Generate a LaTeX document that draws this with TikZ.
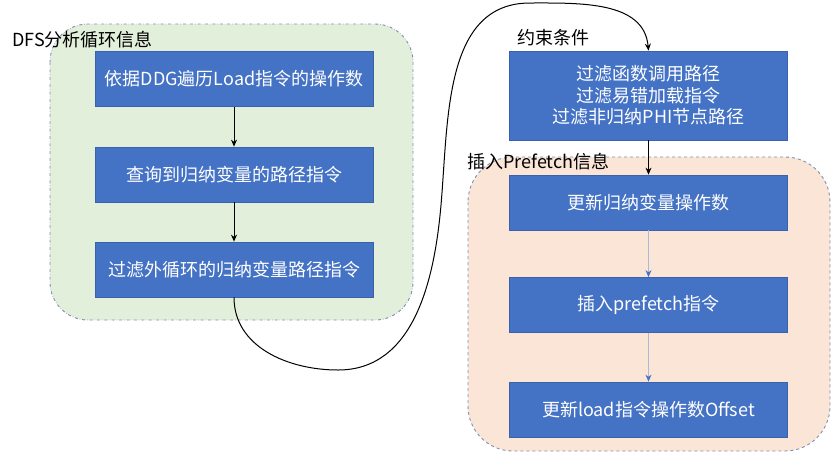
\documentclass[tikz,border=0pt]{standalone}
\usepackage{fontspec}
\setmainfont{Noto Sans CJK SC}
\usetikzlibrary{arrows.meta}
\definecolor{boxblue}{HTML}{4472C4}
\definecolor{boxedge}{HTML}{3A62AC}
\definecolor{greenfill}{HTML}{E2EFDA}
\definecolor{orangefill}{HTML}{FBE5D6}
\definecolor{grpedge}{HTML}{7F8FB5}
\definecolor{lightline}{HTML}{AEB9D3}
\tikzset{
  stepbox/.style={draw=boxedge, line width=0.8pt, fill=boxblue, text=white,
    minimum width=278pt, minimum height=55pt, inner sep=0pt, align=center,
    font=\fontsize{18}{21.5}\selectfont},
  grplabel/.style={anchor=west, inner sep=0pt, font=\fontsize{18}{21.5}\selectfont},
  darrow/.style={-{Stealth[length=7pt,width=6pt]}, black, line width=1pt},
  larrow/.style={draw=lightline, line width=1pt, arrows={-{Stealth[length=7pt,width=6pt,color=boxblue]}}}
}
\begin{document}
\begin{tikzpicture}[x=1pt,y=-1pt]
\useasboundingbox (0,0) rectangle (832,456);
% groups
\draw[fill=greenfill, draw=grpedge, dash dot, line width=0.9pt, rounded corners=38pt] (50,24) rectangle (413,320);
\draw[fill=orangefill, draw=grpedge, dashed, line width=0.9pt, rounded corners=45pt] (468,157) rectangle (830,451);
% labels
\node[grplabel] (lab1) at (12,40) {DFS分析循环信息};
\node[grplabel] (lab2) at (517,38) {约束条件};
\node[grplabel] (lab3) at (467,162) {插入Prefetch信息};
% boxes
\node[stepbox] (b1) at (234,79) {依据DDG遍历Load指令的操作数};
\node[stepbox] (b2) at (234,174.5) {查询到归纳变量的路径指令};
\node[stepbox] (b3) at (234,269.5) {过滤外循环的归纳变量路径指令};
\node[stepbox, minimum height=89pt] (b4) at (648.5,95.5) {过滤函数调用路径\\过滤易错加载指令\\过滤非归纳PHI节点路径};
\node[stepbox] (b5) at (648.5,202.5) {更新归纳变量操作数};
\node[stepbox] (b6) at (648.5,305) {插入prefetch指令};
\node[stepbox] (b7) at (648.5,409.5) {更新load指令操作数Offset};
% arrows
\draw[darrow] (b1) -- (b2);
\draw[darrow] (b2) -- (b3);
\draw[darrow] (b4) -- (b5);
\draw[larrow] (b5) -- (b6);
\draw[larrow] (b6) -- (b7);
\coordinate (c1) at (338,370);
\coordinate (c2) at (441,205);
\coordinate (c3) at (530,3);
\draw[darrow] (b3.south) to[out=-90,in=180] (c1) to[out=0,in=-95] (c2) to[out=85,in=180] (c3) to[out=0,in=95] (b4.north);
\end{tikzpicture}
\end{document}
